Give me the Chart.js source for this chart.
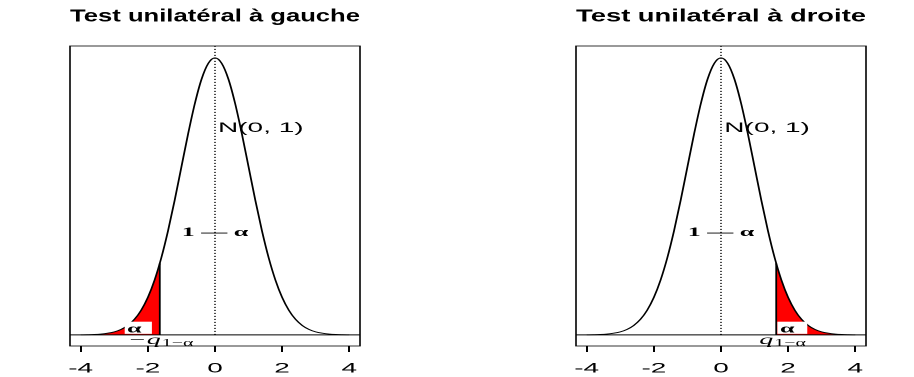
<!DOCTYPE html>
<html>
<head>
<meta charset="utf-8">
<script src="https://cdn.jsdelivr.net/npm/chart.js@4"></script>
<style>
  html, body { margin: 0; padding: 0; background: #fff; overflow: hidden; }
  /* the original figure is a narrow R plot stretched to twice its width */
  #wrap { position: absolute; left: 0; top: 0; width: 457px; height: 377px;
          transform: scaleX(2); transform-origin: 0 0; }
  #wrap canvas { position: absolute; top: 0; }
</style>
</head>
<body>
<div id="wrap">
  <canvas id="leftChart" width="228" height="377" style="left:0"></canvas>
  <canvas id="rightChart" width="228" height="377" style="left:229px"></canvas>
</div>
<script>
const xs = [-4.0,-3.8,-3.6,-3.4,-3.2,-3.0,-2.8,-2.6,-2.4,-2.2,-2.0,-1.8,-1.6,-1.4,-1.2,-1.0,-0.8,-0.6,-0.4,-0.2,
            0.0,0.2,0.4,0.6,0.8,1.0,1.2,1.4,1.6,1.8,2.0,2.2,2.4,2.6,2.8,3.0,3.2,3.4,3.6,3.8,4.0];
const density = [0.0001,0.0003,0.0006,0.0012,0.0024,0.0044,0.0079,0.0136,0.0224,0.0355,0.0540,0.0790,0.1109,0.1497,0.1942,0.2420,0.2897,0.3332,0.3683,0.3910,
                 0.3989,0.3910,0.3683,0.3332,0.2897,0.2420,0.1942,0.1497,0.1109,0.0790,0.0540,0.0355,0.0224,0.0136,0.0079,0.0044,0.0024,0.0012,0.0006,0.0003,0.0001];
const quantile = 1.645;       // q_{1-alpha}, alpha = 0.05
const densityAtQ = 0.1031;
const xTicks = [-4, -2, 0, 2, 4];
const xTickLabels = ["-4", "-2", "0", "2", "4"];
const titles = ["Test unilatéral à gauche", "Test unilatéral à droite"];

const X_MIN = -4.32, X_MAX = 4.32, Y_MIN = -0.016, Y_MAX = 0.416;
const SANS = '"Liberation Sans", Arial, sans-serif';
const SERIF = '"Liberation Serif", "DejaVu Serif", serif';

function curvePoints() {
  return xs.map((x, i) => ({ x: x, y: density[i] }));
}

function tailPoints(side) {
  const pts = [];
  xs.forEach((x, i) => {
    if (side === "left" && x <= -quantile) pts.push({ x: x, y: density[i] });
    if (side === "right" && x >= quantile) pts.push({ x: x, y: density[i] });
  });
  if (side === "left") pts.push({ x: -quantile, y: densityAtQ });
  else pts.unshift({ x: quantile, y: densityAtQ });
  return pts;
}

// frame around the plotting region, like R's box()
const boxPlugin = {
  id: "frame",
  afterDatasetsDraw(chart) {
    const a = chart.chartArea, ctx = chart.ctx;
    ctx.save();
    ctx.strokeStyle = "#000";
    ctx.lineWidth = 0.8;
    ctx.strokeRect(a.left, a.top, a.right - a.left, a.bottom - a.top);
    ctx.restore();
  }
};

// text annotations placed in data coordinates
const notesPlugin = {
  id: "notes",
  afterDatasetsDraw(chart, args, opts) {
    const ctx = chart.ctx, sx = chart.scales.x, sy = chart.scales.y;
    ctx.save();
    ctx.fillStyle = "#000";
    ctx.textBaseline = "middle";
    (opts.items || []).forEach(n => {
      if (n.box) {
        const x0 = sx.getPixelForValue(n.box[0]), x1 = sx.getPixelForValue(n.box[1]);
        const y0 = sy.getPixelForValue(n.box[2]), y1 = sy.getPixelForValue(n.box[3]);
        ctx.fillStyle = "#fff";
        ctx.fillRect(x0, y1, x1 - x0, y0 - y1);
        ctx.fillStyle = "#000";
      }
      const px = sx.getPixelForValue(n.x), py = sy.getPixelForValue(n.y);
      ctx.font = n.font;
      ctx.textAlign = n.align || "left";
      ctx.fillText(n.text, px, py);
      if (n.sub) {
        const w = ctx.measureText(n.text).width;
        ctx.font = n.subFont;
        ctx.textAlign = "left";
        ctx.fillText(n.sub, px + w + 0.5, py + 3);
      }
    });
    ctx.restore();
  }
};

function makeChart(id, side, padLeft, padRight, title, notes) {
  const q = side === "left" ? -quantile : quantile;
  const ctx = document.getElementById(id).getContext("2d");
  return new Chart(ctx, {
    type: "line",
    data: {
      datasets: [
        { // density curve
          data: curvePoints(), borderColor: "#000", borderWidth: 0.9,
          pointRadius: 0, fill: false, cubicInterpolationMode: "monotone", order: 0
        },
        { // rejection area
          data: tailPoints(side), borderWidth: 0, borderColor: "rgba(0,0,0,0)",
          backgroundColor: "#ff0000", pointRadius: 0, fill: "origin",
          cubicInterpolationMode: "monotone", order: 5
        },
        { // boundary of the rejection area
          data: [{ x: q, y: 0 }, { x: q, y: densityAtQ }],
          borderColor: "#000", borderWidth: 0.9, pointRadius: 0, fill: false, order: 1
        },
        { // y = 0
          data: [{ x: X_MIN, y: 0 }, { x: X_MAX, y: 0 }],
          borderColor: "#000", borderWidth: 1, pointRadius: 0, fill: false, order: 2
        },
        { // x = 0, dotted
          data: [{ x: 0, y: 0 }, { x: 0, y: Y_MAX }],
          borderColor: "#000", borderWidth: 0.8, borderDash: [1, 2],
          pointRadius: 0, fill: false, order: 3
        }
      ]
    },
    options: {
      responsive: false,
      devicePixelRatio: 2,
      animation: false,
      parsing: false,
      layout: { padding: { left: padLeft, right: padRight, top: 0, bottom: 0 } },
      plugins: {
        legend: { display: false },
        tooltip: { enabled: false },
        title: {
          display: true, text: title, fullSize: false, color: "#000",
          font: { family: SANS, size: 17.5, weight: "bold" },
          padding: { top: 6, bottom: 19 }
        },
        notes: { items: notes }
      },
      scales: {
        x: {
          type: "linear", min: X_MIN, max: X_MAX,
          afterBuildTicks: s => { s.ticks = xTicks.map(v => ({ value: v })); },
          afterFit: s => { s.height = 31; },
          border: { display: false },
          grid: { drawOnChartArea: false, tickLength: 6, color: "#000", tickWidth: 1 },
          ticks: {
            color: "#000", padding: 8, maxRotation: 0, autoSkip: false,
            font: { family: SANS, size: 14 },
            callback: (v) => xTickLabels[xTicks.indexOf(v)]
          }
        },
        y: { type: "linear", min: Y_MIN, max: Y_MAX, display: false }
      }
    },
    plugins: [boxPlugin, notesPlugin]
  });
}

const leftNotes = [
  { text: "N(0, 1)", x: 0.09, y: 0.298, font: "14px " + SANS },
  { text: "1 — α", x: 0, y: 0.147, align: "center", font: "bold 13px " + SERIF },
  { text: "α", x: -2.62, y: 0.0085, box: [-2.69, -1.88, 0.0015, 0.019], font: "bold 13px " + SERIF },
  { text: "−q", sub: "1−α", x: -2.6, y: -0.008, font: "italic 14px " + SERIF, subFont: "10px " + SERIF }
];
const rightNotes = [
  { text: "N(0, 1)", x: 0.1, y: 0.298, font: "14px " + SANS },
  { text: "1 — α", x: 0, y: 0.147, align: "center", font: "bold 13px " + SERIF },
  { text: "α", x: 1.76, y: 0.0085, box: [1.68, 2.57, 0.0015, 0.019], font: "bold 13px " + SERIF },
  { text: "q", sub: "1−α", x: 1.14, y: -0.008, font: "italic 14px " + SERIF, subFont: "10px " + SERIF }
];

makeChart("leftChart", "left", 35, 48, titles[0], leftNotes);
makeChart("rightChart", "right", 59, 24, titles[1], rightNotes);
</script>
</body>
</html>
